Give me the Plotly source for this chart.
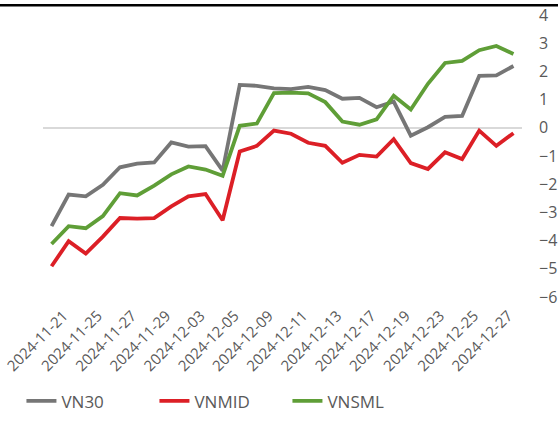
import plotly.graph_objects as go

dates = ["2024-11-21", "2024-11-22", "2024-11-25", "2024-11-26", "2024-11-27", "2024-11-28",
         "2024-11-29", "2024-12-02", "2024-12-03", "2024-12-04", "2024-12-05", "2024-12-06",
         "2024-12-09", "2024-12-10", "2024-12-11", "2024-12-12", "2024-12-13", "2024-12-16",
         "2024-12-17", "2024-12-18", "2024-12-19", "2024-12-20", "2024-12-23", "2024-12-24",
         "2024-12-25", "2024-12-26", "2024-12-27", "2024-12-30"]

vn30 = [-3.49, -2.37, -2.43, -2.02, -1.40, -1.27, -1.23, -0.52, -0.67, -0.65, -1.52, 1.52,
        1.49, 1.40, 1.37, 1.45, 1.34, 1.03, 1.06, 0.73, 0.93, -0.28, 0.02, 0.39, 0.42, 1.84,
        1.86, 2.19]
vnmid = [-4.91, -4.02, -4.46, -3.86, -3.20, -3.22, -3.20, -2.79, -2.43, -2.35, -3.28, -0.84,
         -0.64, -0.10, -0.21, -0.53, -0.64, -1.24, -0.96, -1.02, -0.40, -1.25, -1.46, -0.87,
         -1.11, -0.10, -0.64, -0.19]
vnsml = [-4.12, -3.49, -3.56, -3.13, -2.32, -2.40, -2.05, -1.65, -1.37, -1.48, -1.70, 0.07,
         0.15, 1.23, 1.25, 1.22, 0.91, 0.22, 0.11, 0.30, 1.14, 0.65, 1.56, 2.30, 2.37, 2.75,
         2.90, 2.62]

tick_labels = dates[:27:2]

series = [("VN30", vn30, "#767676"), ("VNMID", vnmid, "#dc1f26"), ("VNSML", vnsml, "#5f9e37")]

fig = go.Figure()
for name, vals, color in series:
    fig.add_trace(go.Scatter(x=dates, y=vals, name=name, mode="lines",
                             line=dict(color=color, width=3.8)))

fig.update_layout(
    width=558, height=434,
    margin=dict(l=43, r=36, t=15, b=137, autoexpand=False),
    paper_bgcolor="white", plot_bgcolor="white",
    font=dict(family="Open Sans", color="#595959"),
    showlegend=True,
    legend=dict(orientation="h", x=-0.045, xanchor="left", y=-0.37, yanchor="middle",
                font=dict(size=17, color="#595959"), traceorder="normal",
                entrywidth=88, tracegroupgap=0),
    xaxis=dict(type="category", categoryorder="array", categoryarray=dates,
               range=[-0.5, len(dates) - 0.5], automargin=False,
               tickmode="array", tickvals=tick_labels, ticktext=tick_labels,
               tickangle=-45, tickfont=dict(size=15, color="#595959"),
               ticklabelstandoff=6, ticklabelshift=12,
               showgrid=False, zeroline=False, showline=False, ticks=""),
    yaxis=dict(side="right", range=[-6, 4], dtick=1, showgrid=False, automargin=False,
               zeroline=True, zerolinecolor="#d9d9d9", zerolinewidth=1.5,
               showline=False, ticks="", tickfont=dict(size=16, color="#595959"),
               ticklabelstandoff=16),
    shapes=[dict(type="line", xref="paper", yref="paper", x0=-0.2, x1=1.2,
                 y0=1.035, y1=1.035, line=dict(color="black", width=2.5))],
)

fig.write_html("out.html", config={"displayModeBar": False},
               post_script="document.body.style.margin='0';")
